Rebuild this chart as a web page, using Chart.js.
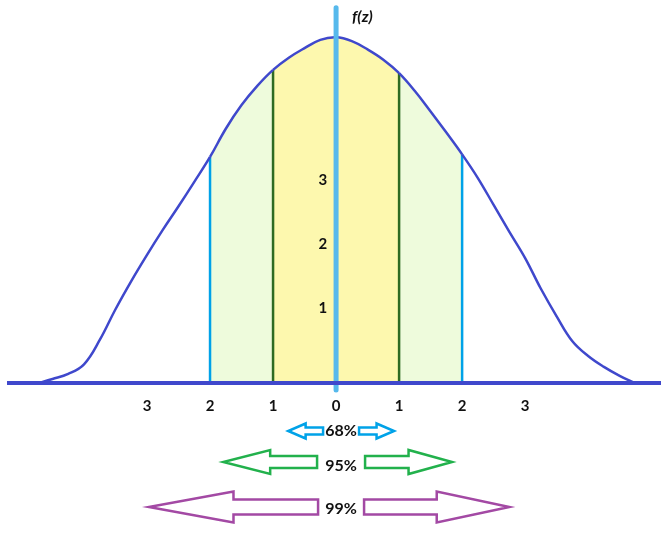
<!DOCTYPE html>
<html>
<head>
<meta charset="utf-8">
<title>Normal curve f(z)</title>
<script src="https://cdn.jsdelivr.net/npm/chart.js@4.4.1/dist/chart.umd.min.js"></script>
<style>
  html, body { margin: 0; padding: 0; background: #fff; }
  #wrap { width: 672px; height: 536px; }
</style>
</head>
<body>
<div id="wrap"><canvas id="bell"></canvas></div>
<script>
/* Curve: z position and height f(z) */
const zPoints = [-4.75, -4.5, -4.25, -4, -3.75, -3.5, -3.25, -3, -2.75, -2.5, -2.25, -2, -1.75, -1.5, -1.25, -1,
  -0.75, -0.5, -0.25, 0, 0.25, 0.5, 0.75, 1, 1.25, 1.5, 1.75, 2, 2.25, 2.5, 2.75, 3, 3.25, 3.5, 3.75, 4, 4.25, 4.5, 4.75];
const fValues = [0, 0.07, 0.15, 0.30, 0.68, 1.16, 1.60, 2.01, 2.40, 2.77, 3.15, 3.54, 3.98, 4.35, 4.65, 4.90,
  5.09, 5.24, 5.37, 5.41, 5.35, 5.22, 5.06, 4.85, 4.57, 4.25, 3.92, 3.58, 3.21, 2.79, 2.37, 1.96, 1.48, 1.05, 0.66, 0.43, 0.26, 0.12, 0];

const xTicks = [-3, -2, -1, 0, 1, 2, 3];
const yTicks = [1, 2, 3];
const sigmaLines = [-2, -1, 1, 2];

const bandLabels = ['68%', '95%', '99%'];
const bandFrom = [-0.76, -1.79, -2.97];
const bandTo = [0.92, 1.84, 2.75];

const colors = {
  curve: '#3f48cc',
  axisZ: '#56b9ec',
  sigma2: '#00a2e8',
  sigma1: '#2e6b22',
  inner: '#fdf8ae',
  outer: '#eefbdc',
  text: '#111111',
  bands: ['#00a2e8', '#22b14c', '#a349a4'],
};

Chart.defaults.font.family = "Lato, 'Open Sans', sans-serif";

function curveAt(z) {
  return fValues[zPoints.indexOf(z)];
}

function shade(a, b) {
  if (a >= -1 && b <= 1) return colors.inner;
  if (a >= -2 && b <= 2) return colors.outer;
  return 'rgba(0,0,0,0)';
}

/* Arrow rows under the axis */
const rowStyle = [
  { dy: 47.5, textDy: 0, gap: 18, shaft: 3.5, head: 7.5 },
  { dy: 78.5, textDy: 4, gap: 24, shaft: 6, head: 12 },
  { dy: 123.5, textDy: 2, gap: 23, shaft: 7.5, head: 15.5 },
];

function blockArrow(ctx, tail, tip, cy, shaft, head) {
  const dir = Math.sign(tip - tail);
  const neck = tip - dir * Math.abs(tip - tail) * 0.5;
  ctx.beginPath();
  ctx.moveTo(tail, cy - shaft);
  ctx.lineTo(neck, cy - shaft);
  ctx.lineTo(neck, cy - head);
  ctx.lineTo(tip, cy);
  ctx.lineTo(neck, cy + head);
  ctx.lineTo(neck, cy + shaft);
  ctx.lineTo(tail, cy + shaft);
  ctx.closePath();
  ctx.stroke();
}

const bandPlugin = {
  id: 'bands',
  afterDraw(chart) {
    const { ctx, chartArea, scales: { x, y } } = chart;
    const base = y.getPixelForValue(0);
    const x0 = x.getPixelForValue(0);
    const mid = x0 + 5;

    ctx.save();
    ctx.fillStyle = colors.text;
    ctx.textBaseline = 'middle';
    ctx.textAlign = 'left';
    ctx.font = "italic bold 16px Lato, sans-serif";
    ctx.fillText('f(z)', x0 + 16, chartArea.top + 17);

    ctx.lineWidth = 2.5;
    ctx.lineJoin = 'miter';
    ctx.font = "bold 16px Lato, sans-serif";
    ctx.textAlign = 'center';
    bandLabels.forEach((label, i) => {
      const s = rowStyle[i];
      const cy = base + s.dy;
      ctx.strokeStyle = colors.bands[i];
      blockArrow(ctx, mid - s.gap, x.getPixelForValue(bandFrom[i]), cy, s.shaft, s.head);
      blockArrow(ctx, mid + s.gap, x.getPixelForValue(bandTo[i]), cy, s.shaft, s.head);
      ctx.fillText(label, mid, cy + s.textDy);
    });
    ctx.restore();
  },
};

const curveData = zPoints.map((z, i) => ({ x: z, y: fValues[i] }));

const sigmaSets = sigmaLines.map((z) => ({
  type: 'line',
  data: [{ x: z, y: 0 }, { x: z, y: curveAt(z) }],
  borderColor: Math.abs(z) === 2 ? colors.sigma2 : colors.sigma1,
  borderWidth: 2.5,
  pointRadius: 0,
  fill: false,
  order: 3,
}));

new Chart(document.getElementById('bell'), {
  type: 'scatter',
  data: {
    datasets: [
      {
        type: 'line',
        data: curveData,
        borderColor: colors.curve,
        borderWidth: 2.5,
        backgroundColor: 'rgba(0,0,0,0)',
        pointRadius: 0,
        tension: 0.4,
        fill: 'origin',
        segment: {
          backgroundColor: (c) => shade(c.p0.parsed.x, c.p1.parsed.x),
        },
        order: 2,
      },
      ...sigmaSets,
      {
        type: 'line',
        data: [{ x: 0, y: -0.1 }, { x: 0, y: 5.87 }],
        borderColor: colors.axisZ,
        borderWidth: 5,
        borderCapStyle: 'round',
        pointRadius: 0,
        fill: false,
        order: 1,
      },
    ],
  },
  options: {
    responsive: true,
    maintainAspectRatio: false,
    animation: false,
    layout: { padding: { left: 9, right: 12, top: 0, bottom: 0 } },
    plugins: {
      legend: { display: false },
      tooltip: { enabled: false },
      filler: { drawTime: 'beforeDatasetsDraw' },
    },
    scales: {
      x: {
        type: 'linear',
        min: -5.19,
        max: 5.14,
        position: { y: 0 },
        grid: { display: false, drawTicks: false },
        border: { display: true, color: colors.curve, width: 4, z: 1 },
        ticks: {
          color: colors.text,
          font: { size: 15, weight: 'bold' },
          padding: 14,
          callback: (v) => Math.abs(v),
        },
        afterBuildTicks: (s) => { s.ticks = xTicks.map((v) => ({ value: v })); },
        afterFit: (s) => { s.paddingLeft = 0; s.paddingRight = 0; },
      },
      y: {
        type: 'linear',
        min: -2.383,
        max: 5.992,
        position: { x: -0.14 },
        grid: { display: false, drawTicks: false },
        border: { display: false },
        ticks: {
          z: 1,
          color: colors.text,
          font: { size: 15, weight: 'bold' },
          labelOffset: -11,
        },
        afterBuildTicks: (s) => { s.ticks = yTicks.map((v) => ({ value: v })); },
        afterFit: (s) => { s.paddingTop = 0; s.paddingBottom = 0; },
      },
    },
  },
  plugins: [bandPlugin],
});
</script>
</body>
</html>
